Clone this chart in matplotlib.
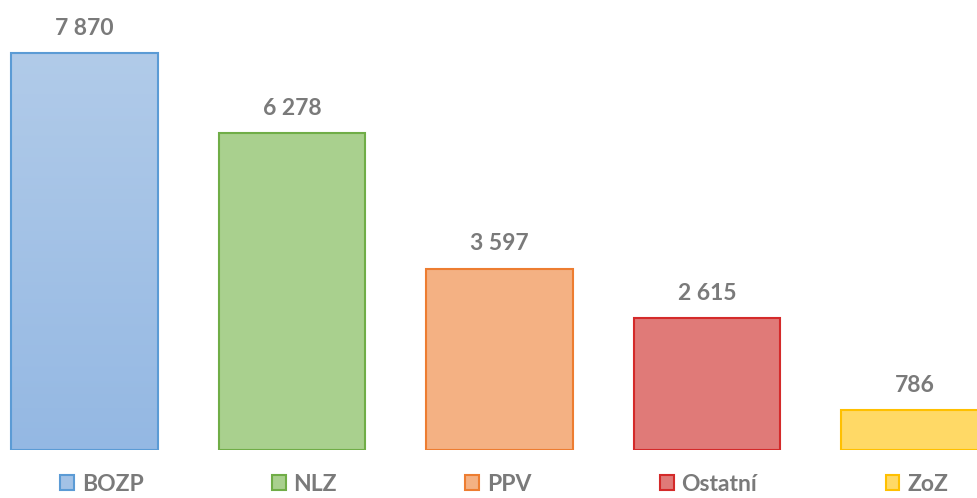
import matplotlib.pyplot as plt
import numpy as np
from matplotlib.colors import LinearSegmentedColormap

categories = ['BOZP', 'NLZ', 'PPV', 'Ostatní', 'ZoZ']
values = [7870, 6278, 3597, 2615, 786]
fills = ['#a3c2e6', '#a9d08e', '#f4b183', '#e07a78', '#ffd966']
edges = ['#5b9bd5', '#70ad47', '#ed7d31', '#d42a2a', '#ffc000']

plt.rcParams['font.family'] = ['Lato', 'DejaVu Sans']
grey = '#7a7a7a'

fig = plt.figure(figsize=(9.77, 4.98), dpi=100)
ax = fig.add_axes([0, 48 / 498, 1, 450 / 498])

x = np.arange(len(categories))
bars = ax.bar(x, values, width=0.708, color=fills, edgecolor=edges, linewidth=1.5,
              label=categories)

# blue bar has a light vertical gradient (top lighter)
b = bars[0]
cmap = LinearSegmentedColormap.from_list('bl', ['#94b8e3', '#b1cbe9'])
grad = np.linspace(0, 1, 256).reshape(-1, 1)
im = ax.imshow(grad, cmap=cmap, aspect='auto', origin='lower',
               extent=[b.get_x(), b.get_x() + b.get_width(), 0, b.get_height()], zorder=b.get_zorder())
im.set_clip_path(b)
b.set_facecolor('none')
b.set_zorder(3)

for xi, v in zip(x, values):
    ax.annotate(f'{v:,}'.replace(',', ' '), (xi, v), xytext=(0, 13), textcoords='offset points',
                ha='center', va='baseline', fontsize=16.5, fontweight='bold', color=grey)

ax.set_xlim(-0.407, 4.301)
ax.set_ylim(0, 8920)
ax.axis('off')

leg = fig.legend(handles=bars, labels=categories, loc='center', bbox_to_anchor=(0.516, 14 / 498),
                 ncol=5, frameon=False, fontsize=16.5, handlelength=0.6, handleheight=0.65,
                 handletextpad=0.35, columnspacing=5.6)
for t in leg.get_texts():
    t.set_color(grey)
    t.set_fontweight('bold')
leg.legend_handles[0].set_facecolor('#a3c2e6')

fig.savefig('out.png', dpi=100)
